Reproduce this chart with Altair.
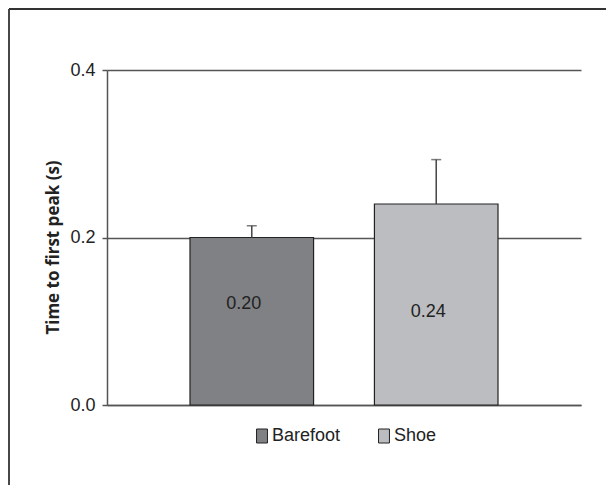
import altair as alt
import pandas as pd

conditions = ["Barefoot", "Shoe"]
means = [0.20, 0.24]
errors = [0.014, 0.053]
labels = ["0.20", "0.24"]
colors = ["#808184", "#bcbdc0"]

df = pd.DataFrame({
    "condition": conditions,
    "value": means,
    "err": errors,
    "label": labels,
})
df["upper"] = df["value"] + df["err"]

FONT = "Liberation Sans"
W, H = 474, 335

x_enc = alt.X("condition:N", sort=conditions,
              scale=alt.Scale(paddingInner=0.33, paddingOuter=0.45),
              axis=alt.Axis(labels=False, ticks=False, title=None,
                            domainColor="#555555", domainWidth=1.5, grid=False))
y_scale = alt.Scale(domain=[0, 0.4], nice=False)

base = alt.Chart(df)

bars = base.mark_bar(stroke="#222222", strokeWidth=1.2).encode(
    x=x_enc,
    y=alt.Y("value:Q", scale=y_scale,
            axis=alt.Axis(values=[0, 0.2, 0.4], format=".1f",
                          title="Time to first peak (s)",
                          titleFont="Open Sans", titleFontSize=17, titleFontWeight="bold",
                          titleColor="#222222", titleX=-45, titleY=177,
                          labelFont=FONT, labelFontSize=18, labelColor="#222222",
                          labelPadding=7, tickSize=5, tickColor="#555555", tickWidth=1.5,
                          domainColor="#555555", domainWidth=1.5,
                          grid=True, gridColor="#555555", gridWidth=1.5)),
    fill=alt.Fill("condition:N", sort=conditions,
                  scale=alt.Scale(domain=conditions, range=colors),
                  legend=alt.Legend(title=None, orient="none", legendX=146, legendY=357,
                                    direction="horizontal", padding=0,
                                    symbolType="M-0.78,-1H0.78V1H-0.78Z",
                                    symbolSize=196, symbolStrokeColor="#222222",
                                    symbolStrokeWidth=1, labelFont=FONT,
                                    labelFontSize=18, labelColor="#222222",
                                    labelOffset=1, columnPadding=34)),
)

err_rule = base.mark_rule(color="#444444", strokeWidth=1.5).encode(
    x=alt.X("condition:N", sort=conditions),
    y="value:Q",
    y2="upper:Q",
)
err_cap = base.mark_tick(color="#444444", thickness=1.5, size=10).encode(
    x=alt.X("condition:N", sort=conditions),
    y="upper:Q",
)

text1 = base.transform_filter(alt.datum.condition == "Barefoot").mark_text(
    font=FONT, fontSize=18, color="#222222", dx=-8, dy=66, baseline="middle"
).encode(x=alt.X("condition:N", sort=conditions), y="value:Q", text="label:N")
text2 = base.transform_filter(alt.datum.condition == "Shoe").mark_text(
    font=FONT, fontSize=18, color="#222222", dx=-8, dy=108, baseline="middle"
).encode(x=alt.X("condition:N", sort=conditions), y="value:Q", text="label:N")

frame_left = alt.Chart(pd.DataFrame({"k": [0]})).mark_rule(color="#333333", strokeWidth=1.8).encode(
    x=alt.value(-98), y=alt.value(-61), y2=alt.value(430))
frame_top = alt.Chart(pd.DataFrame({"k": [0]})).mark_rule(color="#333333", strokeWidth=1.8).encode(
    x=alt.value(-98), x2=alt.value(520), y=alt.value(-61))

chart = alt.layer(bars, err_rule, err_cap, text1, text2, frame_left, frame_top).properties(
    width=W, height=H,
    autosize=alt.AutoSizeParams(type="none"),
    padding={"left": 99, "top": 62, "right": 25, "bottom": 80},
).configure_view(stroke=None)

chart.save("out.html", embed_options={"renderer": "svg", "actions": False})
